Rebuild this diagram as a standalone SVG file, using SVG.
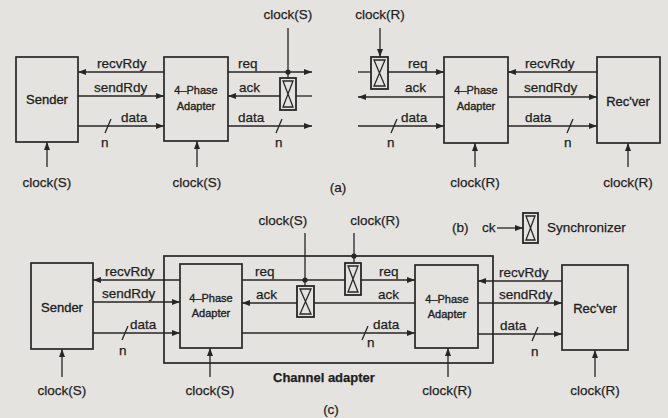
<svg xmlns="http://www.w3.org/2000/svg" width="668" height="418" viewBox="0 0 668 418">
<defs>
<marker id="ah" viewBox="0 0 8 6" refX="8" refY="3" markerWidth="8" markerHeight="6" markerUnits="userSpaceOnUse" orient="auto">
<path d="M0,0 L8,3 L0,6 z" fill="#262626"/>
</marker>
<style>
text{font-family:"Liberation Sans",Arial,sans-serif;font-size:13.5px;fill:#1e1e1e;stroke:#1e1e1e;stroke-width:0.25}
.m{text-anchor:middle}
.box{fill:none;stroke:#262626;stroke-width:1.7}
.ln{fill:none;stroke:#262626;stroke-width:1.3}
.ar{marker-end:url(#ah)}
.sy{fill:none;stroke:#262626;stroke-width:1.8}
.ad{font-size:11px;text-anchor:middle;stroke-width:0.35}
.nm{font-size:13px;text-anchor:middle;stroke-width:0.35}
.dot{fill:#262626}
</style>
</defs>
<rect width="668" height="418" fill="#e5e3e0"/>

<!-- ===== (a) ===== -->
<g id="a-sender"><rect class="box" x="16" y="57" width="62" height="85"/><text class="nm" x="47" y="104">Sender</text></g>
<g id="a-adapter1"><rect class="box" x="164" y="57" width="64" height="84"/><text class="ad" x="196" y="94">4–Phase</text><text class="ad" x="196" y="110">Adapter</text></g>
<g id="a-sync1"><rect class="sy" x="280" y="78" width="16" height="32"/><path class="ln" d="M283,81 H293 L283,107 H293 Z"/></g>
<g id="a-sync2"><rect class="sy" x="371" y="57" width="17" height="32"/><path class="ln" d="M374,60 H385 L374,86 H385 Z"/></g>
<g id="a-adapter2"><rect class="box" x="444" y="57" width="64" height="86"/><text class="ad" x="476" y="94">4–Phase</text><text class="ad" x="476" y="110">Adapter</text></g>
<g id="a-receiver"><rect class="box" x="597" y="57" width="63" height="86"/><text class="nm" x="628" y="106">Rec'ver</text></g>

<!-- ===== (b) ===== -->
<g id="b-sync"><rect class="sy" x="523" y="213" width="15" height="30"/><path class="ln" d="M526,216 H535 L526,240 H535 Z"/></g>

<!-- ===== (c) ===== -->
<g id="c-channel"><rect class="box" x="164" y="256" width="329" height="107"/><text x="273" y="382" style="font-weight:bold;font-size:13px">Channel adapter</text></g>
<g id="c-sender"><rect class="box" x="31" y="263" width="62" height="86"/><text class="nm" x="62" y="312">Sender</text></g>
<g id="c-adapter1"><rect class="box" x="180" y="264" width="62" height="84"/><text class="ad" x="211" y="302">4–Phase</text><text class="ad" x="211" y="317">Adapter</text></g>
<g id="c-syncS"><rect class="sy" x="297" y="286" width="17" height="31"/><path class="ln" d="M300,289 H311 L300,314 H311 Z"/></g>
<g id="c-syncR"><rect class="sy" x="345" y="263" width="16" height="32"/><path class="ln" d="M348,266 H358 L348,292 H358 Z"/></g>
<g id="c-adapter2"><rect class="box" x="415" y="265" width="63" height="83"/><text class="ad" x="447" y="303">4–Phase</text><text class="ad" x="447" y="318">Adapter</text></g>
<g id="c-receiver"><rect class="box" x="562" y="265" width="66" height="85"/><text class="nm" x="595" y="313">Rec'ver</text></g>

<g id="connectors">
<!-- (a) left -->
<line class="ln ar" x1="164" y1="72" x2="78" y2="72"/>
<line class="ln ar" x1="78" y1="96" x2="164" y2="96"/>
<line class="ln ar" x1="78" y1="126" x2="164" y2="126"/>
<line class="ln" x1="105" y1="133" x2="111" y2="119"/>
<line class="ln ar" x1="228" y1="72" x2="312" y2="72"/>
<line class="ln" x1="312" y1="96" x2="296" y2="96"/>
<line class="ln ar" x1="280" y1="96" x2="228" y2="96"/>
<line class="ln ar" x1="228" y1="126" x2="312" y2="126"/>
<line class="ln" x1="276" y1="133" x2="282" y2="119"/>
<line class="ln" x1="288" y1="28" x2="288" y2="78"/>
<circle class="dot" cx="288" cy="72" r="2.6"/>
<line class="ln ar" x1="47" y1="167" x2="47" y2="142"/>
<line class="ln ar" x1="197" y1="167" x2="197" y2="141"/>
<!-- (a) right -->
<line class="ln ar" x1="380" y1="28" x2="380" y2="57"/>
<line class="ln" x1="358" y1="72" x2="371" y2="72"/>
<line class="ln ar" x1="388" y1="72" x2="444" y2="72"/>
<line class="ln ar" x1="444" y1="97" x2="358" y2="97"/>
<line class="ln ar" x1="358" y1="126" x2="444" y2="126"/>
<line class="ln" x1="391" y1="133" x2="397" y2="119"/>
<line class="ln ar" x1="597" y1="72" x2="508" y2="72"/>
<line class="ln ar" x1="508" y1="97" x2="597" y2="97"/>
<line class="ln ar" x1="508" y1="126" x2="597" y2="126"/>
<line class="ln" x1="567" y1="133" x2="573" y2="119"/>
<line class="ln ar" x1="475" y1="167" x2="475" y2="143"/>
<line class="ln ar" x1="628" y1="167" x2="628" y2="143"/>
<!-- (b) -->
<line class="ln ar" x1="497" y1="228" x2="523" y2="228"/>
<!-- (c) left -->
<line class="ln ar" x1="180" y1="280" x2="93" y2="280"/>
<line class="ln ar" x1="93" y1="302" x2="180" y2="302"/>
<line class="ln ar" x1="93" y1="333" x2="180" y2="333"/>
<line class="ln" x1="122" y1="340" x2="128" y2="326"/>
<line class="ln" x1="242" y1="280" x2="345" y2="280"/>
<line class="ln ar" x1="361" y1="280" x2="415" y2="280"/>
<line class="ln" x1="415" y1="303" x2="314" y2="303"/>
<line class="ln ar" x1="297" y1="303" x2="242" y2="303"/>
<line class="ln ar" x1="242" y1="333" x2="415" y2="333"/>
<line class="ln" x1="362" y1="340" x2="368" y2="326"/>
<line class="ln" x1="305" y1="233" x2="305" y2="286"/>
<circle class="dot" cx="305" cy="280" r="2.6"/>
<line class="ln" x1="354" y1="233" x2="354" y2="263"/>
<circle class="dot" cx="354" cy="256" r="2.6"/>
<!-- (c) right -->
<line class="ln ar" x1="562" y1="281" x2="478" y2="281"/>
<line class="ln ar" x1="478" y1="303" x2="562" y2="303"/>
<line class="ln ar" x1="478" y1="334" x2="562" y2="334"/>
<line class="ln" x1="532" y1="341" x2="538" y2="327"/>
<line class="ln ar" x1="62" y1="377" x2="62" y2="349"/>
<line class="ln ar" x1="210" y1="377" x2="210" y2="348"/>
<line class="ln ar" x1="448" y1="377" x2="448" y2="348"/>
<line class="ln ar" x1="595" y1="377" x2="595" y2="350"/>
</g>

<g id="labels">
<!-- (a) -->
<text class="m" x="288" y="19">clock(S)</text>
<text class="m" x="380" y="19">clock(R)</text>
<text x="97" y="68">recvRdy</text>
<text x="94" y="92">sendRdy</text>
<text x="121" y="122">data</text>
<text x="101" y="147">n</text>
<text x="238" y="68">req</text>
<text x="239" y="92">ack</text>
<text x="238" y="122">data</text>
<text x="275" y="147">n</text>
<text x="408" y="68">req</text>
<text x="405" y="92">ack</text>
<text x="401" y="122">data</text>
<text x="387" y="147">n</text>
<text x="525" y="68">recvRdy</text>
<text x="524" y="92">sendRdy</text>
<text x="525" y="122">data</text>
<text x="564" y="147">n</text>
<text class="m" x="47" y="187">clock(S)</text>
<text class="m" x="197" y="187">clock(S)</text>
<text class="m" x="475" y="187">clock(R)</text>
<text class="m" x="628" y="187">clock(R)</text>
<text class="m" x="338" y="192">(a)</text>
<!-- (b) -->
<text x="452" y="232">(b)</text>
<text x="482" y="232">ck</text>
<text x="547" y="232">Synchronizer</text>
<!-- (c) -->
<text class="m" x="283" y="225">clock(S)</text>
<text class="m" x="375" y="225">clock(R)</text>
<text x="105" y="276">recvRdy</text>
<text x="102" y="298">sendRdy</text>
<text x="130" y="329">data</text>
<text x="119" y="355">n</text>
<text x="255" y="276">req</text>
<text x="256" y="299">ack</text>
<text x="379" y="276">req</text>
<text x="378" y="299">ack</text>
<text x="373" y="329">data</text>
<text x="367" y="347">n</text>
<text x="499" y="277">recvRdy</text>
<text x="499" y="299">sendRdy</text>
<text x="500" y="330">data</text>
<text x="531" y="356">n</text>
<text class="m" x="62" y="395">clock(S)</text>
<text class="m" x="210" y="395">clock(S)</text>
<text class="m" x="447" y="395">clock(R)</text>
<text class="m" x="595" y="395">clock(R)</text>
<text class="m" x="331" y="414">(c)</text>
</g>
</svg>
